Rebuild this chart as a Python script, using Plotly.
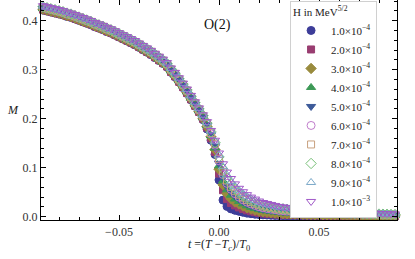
import plotly.graph_objects as go

# Reduced temperature grid (shared by all field values)
t_values = [
    -0.088, -0.086, -0.084, -0.082, -0.080, -0.078, -0.076, -0.074, -0.072, -0.070,
    -0.068, -0.066, -0.064, -0.062, -0.060, -0.058, -0.056, -0.054, -0.052, -0.050,
    -0.048, -0.046, -0.044, -0.042, -0.040, -0.038, -0.036, -0.034, -0.032, -0.030,
    -0.028, -0.026, -0.024, -0.022, -0.020, -0.018, -0.016, -0.014, -0.012,
    -0.010, -0.008, -0.006, -0.004, -0.002, 0.000, 0.002, 0.004, 0.006, 0.008, 0.010,
    0.012, 0.014, 0.016, 0.018, 0.020, 0.022, 0.024, 0.026, 0.028, 0.030,
    0.032, 0.034, 0.036, 0.038, 0.040,
    0.042, 0.044, 0.046, 0.048, 0.050, 0.052, 0.054, 0.056, 0.058, 0.060,
    0.062, 0.064, 0.066, 0.068, 0.070, 0.072, 0.074, 0.076, 0.078, 0.080,
    0.082, 0.084, 0.086, 0.088,
]

# Low-temperature branch (t from -0.088 to -0.012), middle of the band
M_low_common = [
    0.426, 0.424, 0.422, 0.420, 0.418, 0.416, 0.413, 0.411, 0.408, 0.405,
    0.402, 0.399, 0.396, 0.392, 0.389, 0.386, 0.382, 0.379, 0.375, 0.371,
    0.367, 0.363, 0.359, 0.355, 0.350, 0.345, 0.340, 0.335, 0.329, 0.323,
    0.317, 0.310, 0.299, 0.290, 0.279, 0.268, 0.256, 0.243, 0.230,
]
# Small spread of the low-temperature branch between field values
M_low_spread = [-0.0045, -0.0035, -0.0025, -0.0015, -0.0005,
                0.0005, 0.0015, 0.0025, 0.0035, 0.0045]

# Field-dependent part (t from -0.010 to 0.088)
M_H1 = [0.213, 0.198, 0.179, 0.156, 0.127, 0.075, 0.034, 0.021, 0.016, 0.013, 0.011,
        0.0090, 0.0073, 0.0061, 0.0051, 0.0043, 0.0037, 0.0033, 0.0029, 0.0026, 0.0023,
        0.0022, 0.0020, 0.0019, 0.0018, 0.0016,
        0.0016, 0.0015, 0.0015, 0.0014, 0.0014, 0.0013, 0.0013, 0.0012, 0.0012, 0.0011,
        0.0011, 0.0010, 0.0010, 0.0009, 0.0009, 0.0008, 0.0008, 0.0007, 0.0007, 0.0007,
        0.0007, 0.0006, 0.0006, 0.0006]
M_H2 = [0.214, 0.200, 0.182, 0.160, 0.132, 0.088, 0.054, 0.036, 0.028, 0.023, 0.019,
        0.0158, 0.0131, 0.0110, 0.0094, 0.0080, 0.0069, 0.0062, 0.0056, 0.0050, 0.0045,
        0.0042, 0.0040, 0.0037, 0.0035, 0.0033,
        0.0031, 0.0030, 0.0029, 0.0028, 0.0027, 0.0026, 0.0025, 0.0024, 0.0023, 0.0022,
        0.0021, 0.0020, 0.0019, 0.0018, 0.0017, 0.0016, 0.0015, 0.0015, 0.0014, 0.0014,
        0.0013, 0.0012, 0.0012, 0.0011]
M_H3 = [0.215, 0.201, 0.184, 0.163, 0.137, 0.097, 0.065, 0.047, 0.037, 0.030, 0.026,
        0.0218, 0.0182, 0.0155, 0.0133, 0.0114, 0.0100, 0.0091, 0.0082, 0.0074, 0.0067,
        0.0063, 0.0059, 0.0055, 0.0052, 0.0049,
        0.0047, 0.0045, 0.0044, 0.0042, 0.0041, 0.0039, 0.0038, 0.0036, 0.0035, 0.0033,
        0.0032, 0.0030, 0.0029, 0.0027, 0.0026, 0.0024, 0.0023, 0.0022, 0.0021, 0.0020,
        0.0020, 0.0019, 0.0018, 0.0017]
M_H4 = [0.216, 0.202, 0.186, 0.165, 0.140, 0.104, 0.073, 0.055, 0.044, 0.036, 0.031,
        0.0260, 0.0221, 0.0190, 0.0166, 0.0144, 0.0127, 0.0116, 0.0106, 0.0096, 0.0087,
        0.0082, 0.0078, 0.0073, 0.0069, 0.0065,
        0.0062, 0.0060, 0.0058, 0.0056, 0.0054, 0.0052, 0.0050, 0.0048, 0.0046, 0.0044,
        0.0042, 0.0040, 0.0038, 0.0036, 0.0034, 0.0032, 0.0031, 0.0030, 0.0028, 0.0027,
        0.0026, 0.0025, 0.0024, 0.0022]
M_H5 = [0.217, 0.203, 0.187, 0.167, 0.143, 0.109, 0.080, 0.062, 0.050, 0.042, 0.036,
        0.0307, 0.0263, 0.0228, 0.0200, 0.0175, 0.0155, 0.0143, 0.0131, 0.0119, 0.0108,
        0.0102, 0.0097, 0.0091, 0.0086, 0.0081,
        0.0078, 0.0075, 0.0073, 0.0070, 0.0068, 0.0065, 0.0063, 0.0060, 0.0058, 0.0055,
        0.0053, 0.0050, 0.0048, 0.0045, 0.0043, 0.0040, 0.0039, 0.0037, 0.0036, 0.0034,
        0.0033, 0.0031, 0.0030, 0.0028]
M_H6 = [0.218, 0.204, 0.189, 0.169, 0.146, 0.114, 0.086, 0.068, 0.056, 0.047, 0.040,
        0.0345, 0.0298, 0.0261, 0.0231, 0.0203, 0.0182, 0.0168, 0.0154, 0.0141, 0.0128,
        0.0122, 0.0115, 0.0109, 0.0103, 0.0096,
        0.0093, 0.0090, 0.0087, 0.0084, 0.0081, 0.0078, 0.0075, 0.0072, 0.0069, 0.0066,
        0.0063, 0.0060, 0.0057, 0.0054, 0.0051, 0.0048, 0.0046, 0.0044, 0.0043, 0.0041,
        0.0039, 0.0037, 0.0035, 0.0034]
M_H7 = [0.219, 0.205, 0.190, 0.171, 0.149, 0.118, 0.092, 0.074, 0.061, 0.052, 0.045,
        0.0390, 0.0339, 0.0298, 0.0265, 0.0233, 0.0210, 0.0194, 0.0179, 0.0164, 0.0149,
        0.0141, 0.0134, 0.0127, 0.0120, 0.0112,
        0.0109, 0.0105, 0.0102, 0.0098, 0.0095, 0.0091, 0.0088, 0.0084, 0.0081, 0.0077,
        0.0074, 0.0070, 0.0067, 0.0063, 0.0060, 0.0056, 0.0054, 0.0052, 0.0050, 0.0048,
        0.0046, 0.0043, 0.0041, 0.0039]
M_H8 = [0.220, 0.206, 0.191, 0.173, 0.151, 0.122, 0.097, 0.079, 0.066, 0.057, 0.049,
        0.0427, 0.0374, 0.0330, 0.0296, 0.0261, 0.0236, 0.0219, 0.0202, 0.0186, 0.0169,
        0.0161, 0.0153, 0.0144, 0.0136, 0.0128,
        0.0124, 0.0120, 0.0116, 0.0112, 0.0108, 0.0104, 0.0100, 0.0096, 0.0092, 0.0088,
        0.0084, 0.0080, 0.0076, 0.0072, 0.0068, 0.0064, 0.0062, 0.0059, 0.0057, 0.0054,
        0.0052, 0.0050, 0.0047, 0.0045]
M_H9 = [0.221, 0.207, 0.192, 0.175, 0.154, 0.126, 0.102, 0.085, 0.072, 0.062, 0.054,
        0.0472, 0.0414, 0.0367, 0.0329, 0.0292, 0.0264, 0.0245, 0.0226, 0.0208, 0.0190,
        0.0181, 0.0171, 0.0162, 0.0153, 0.0144,
        0.0140, 0.0135, 0.0131, 0.0126, 0.0122, 0.0117, 0.0113, 0.0108, 0.0104, 0.0099,
        0.0095, 0.0090, 0.0086, 0.0081, 0.0077, 0.0072, 0.0069, 0.0067, 0.0064, 0.0061,
        0.0059, 0.0056, 0.0053, 0.0050]
M_H10 = [0.222, 0.208, 0.194, 0.176, 0.156, 0.130, 0.108, 0.091, 0.078, 0.067, 0.058,
         0.051, 0.045, 0.040, 0.036, 0.032, 0.029, 0.027, 0.025, 0.023, 0.021,
         0.020, 0.019, 0.018, 0.017, 0.016,
         0.0155, 0.0150, 0.0145, 0.0140, 0.0135, 0.0130, 0.0125, 0.0120, 0.0115, 0.0110,
         0.0105, 0.0100, 0.0095, 0.0090, 0.0085, 0.0080, 0.0077, 0.0074, 0.0071, 0.0068,
         0.0065, 0.0062, 0.0059, 0.0056]

series_M = [M_H1, M_H2, M_H3, M_H4, M_H5, M_H6, M_H7, M_H8, M_H9, M_H10]
legend_labels = [
    "1.0×10<sup>−4</sup>", "2.0×10<sup>−4</sup>", "3.0×10<sup>−4</sup>",
    "4.0×10<sup>−4</sup>", "5.0×10<sup>−4</sup>", "6.0×10<sup>−4</sup>",
    "7.0×10<sup>−4</sup>", "8.0×10<sup>−4</sup>", "9.0×10<sup>−4</sup>",
    "1.0×10<sup>−3</sup>",
]
colors = ["#3D3D99", "#993D71", "#998B3D", "#3D9956", "#3D5A99",
          "#C07CCB", "#C8A07E", "#78C078", "#7AA8C8", "#A058C8"]
symbols = ["circle", "square", "diamond", "triangle-up", "triangle-down",
           "circle-open", "square-open", "diamond-open", "triangle-up-open",
           "triangle-down-open"]
sizes = [8, 7, 8, 8, 8, 8, 7, 8, 8, 8]

serif = "Liberation Serif, Times New Roman, serif"

fig = go.Figure()
for lab, col, sym, sz, shift, m_high in zip(legend_labels, colors, symbols, sizes,
                                            M_low_spread, series_M):
    y_low = [m + shift for m in M_low_common]
    fig.add_trace(go.Scatter(
        x=t_values, y=y_low + m_high, mode="markers", name=lab,
        marker=dict(symbol=sym, size=sz, color=col,
                    line=dict(color=col, width=1)),
        cliponaxis=False,
    ))

axis_common = dict(
    showline=True, linecolor="black", linewidth=1.2, mirror="allticks",
    ticks="inside", ticklen=4.5, tickcolor="black", showgrid=False, zeroline=False,
    tickfont=dict(family=serif, size=12, color="#333"),
)

fig.update_layout(
    width=415, height=259,
    margin=dict(l=41, r=18, t=0, b=39, autoexpand=False),
    paper_bgcolor="white", plot_bgcolor="white",
    showlegend=True,
    legend=dict(
        x=0.944, y=0.997, xanchor="right", yanchor="top",
        bgcolor="white", bordercolor="#D0D0D0", borderwidth=1,
        font=dict(family=serif, size=11, color="#222"),
        title=dict(text="H in MeV<sup>5/2</sup>", font=dict(family=serif, size=11, color="#222")),
        itemwidth=30, tracegroupgap=0, itemsizing="trace",
    ),
    xaxis=dict(
        range=[-0.089, 0.089], tickvals=[-0.05, 0.0, 0.05],
        ticktext=["−0.05", "0.00", "0.05"],
        minor=dict(dtick=0.01, tick0=0, ticks="inside", ticklen=2.5, tickcolor="black"),
        **axis_common,
    ),
    yaxis=dict(
        range=[-0.0067, 0.4422], tickvals=[0.0, 0.1, 0.2, 0.3, 0.4],
        ticktext=["0.0", "0.1", "0.2", "0.3", "0.4"],
        minor=dict(dtick=0.02, tick0=0, ticks="inside", ticklen=2.5, tickcolor="black"),
        **axis_common,
    ),
    annotations=[
        dict(text="O(2)", x=-0.001, y=0.391, xref="x", yref="y", showarrow=False,
             font=dict(family=serif, size=14, color="#111")),
        dict(text="<i>M</i>", x=-0.0795, y=0.218, xref="paper", yref="y", showarrow=False,
             xanchor="center", yanchor="middle",
             font=dict(family=serif, size=12, color="#222")),
        dict(text="<i>t</i> =(<i>T</i> −<i>T</i><sub><i>c</i></sub>)/<i>T</i><sub>0</sub>",
             x=0.0, y=-0.1136, xref="x", yref="paper", showarrow=False,
             xanchor="center", yanchor="middle",
             font=dict(family=serif, size=12, color="#222")),
    ],
)

fig.write_html("out.html", config={"displayModeBar": False},
               post_script="document.body.style.margin='0';")
